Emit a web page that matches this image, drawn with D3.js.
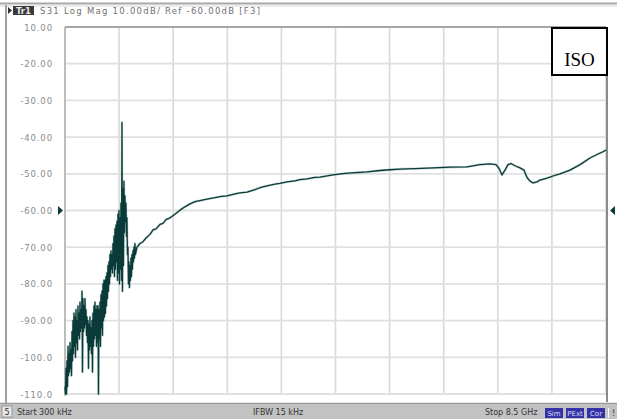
<!DOCTYPE html>
<html>
<head>
<meta charset="utf-8">
<script src="https://cdn.jsdelivr.net/npm/d3@7"></script>
<style>
  html, body { margin: 0; padding: 0; background: #fff; }
  svg { display: block; }
</style>
</head>
<body>
<svg id="chart" width="617" height="419"></svg>
<script>
// Sweep settings (GHz)
const sweepStart = 0.0003;
const sweepStop = 8.5;
const sweepStep = 0.0157;          // spacing of the low-band sweep bins

// Y axis: 10 dB/div, reference -60 dB
const yTicks = [-10, -20, -30, -40, -50, -60, -70, -80, -90, -100, -110];
const yTickLabels = ["10.00", "-20.00", "-30.00", "-40.00", "-50.00", "-60.00",
                     "-70.00", "-80.00", "-90.00", "-100.0", "-110.0"];
const refLevel = -60;

// Low band S31 (dB): per sweep bin, [peak, trough]
const lowBand = [
  [-108,-110],[-103,-110],[-101,-108],[-97,-105],[-99,-104],[-96,-103],[-98,-105],
  [-93,-101],[-90,-99],[-88,-97],[-89,-100],[-87,-96],[-90,-98],[-86,-94],[-88,-95],
  [-85,-93],[-87,-92],[-82,-104],[-84,-93],[-86,-92],[-84,-91],[-87,-94],[-89,-96],
  [-90,-103],[-91,-98],[-89,-97],[-92,-99],[-90,-104],[-88,-97],[-86,-95],[-85,-94],
  [-87,-97],[-86,-96],[-86,-110],[-87,-95],[-85,-97],[-83,-92],[-82,-94],[-80,-90],
  [-79,-89],[-79,-88],[-78,-86],[-77,-84],[-75,-82],[-74,-80],[-72,-78],[-71,-76],
  [-72,-77],[-69,-75],[-67,-78],[-65,-76],[-64,-74],[-63,-79],[-61,-77],[-60,-80],
  [-62,-76],[-58,-79],[-36,-82],[-54,-75],[-52,-66],[-56,-63],[-58,-67],[-62,-72],
  [-70,-80],[-74,-81],[-75,-79],[-73,-78],[-72,-76],[-71,-74],[-70,-73],[-69,-72]
];

// Upper band S31: frequency (GHz) and level (dB)
const freqGHz = [1.131,1.178,1.226,1.273,1.336,1.383,1.430,1.493,1.540,1.587,1.650,
  1.728,1.807,1.885,1.964,2.043,2.121,2.231,2.357,2.435,2.545,2.671,2.750,2.860,
  2.985,3.064,3.174,3.299,3.378,3.488,3.613,3.692,3.802,3.928,4.007,4.211,4.399,
  4.556,4.745,4.949,5.106,5.264,5.499,5.782,6.049,6.316,6.520,6.678,6.772,6.819,
  6.866,6.913,6.960,7.008,7.070,7.149,7.212,7.259,7.306,7.354,7.416,7.463,7.573,
  7.667,7.777,7.934,8.092,8.249,8.375,8.453,8.500];
const s31dB = [-70,-69,-68.5,-67.5,-66.5,-65.3,-65,-63.8,-63.5,-62.5,-62,
  -61,-59.9,-59,-58.2,-57.6,-57.3,-56.9,-56.5,-56.2,-56,-55.5,-55.2,-55,
  -54.3,-53.8,-53.3,-52.8,-52.6,-52.2,-51.9,-51.6,-51.4,-51,-50.9,-50.3,-49.9,
  -49.7,-49.5,-49.1,-48.9,-48.7,-48.6,-48.4,-48.2,-48.1,-47.5,-47.3,-47.5,-48.5,
  -50.3,-49,-47.5,-47.2,-47.8,-48.4,-49,-51,-52,-52.5,-52.2,-51.7,-51.2,
  -50.6,-50,-49,-47.5,-45.7,-44.6,-44,-43.5];

const traceName = "ISO";
const headerTrace = "Tr1";
const headerText = "S31 Log Mag 10.00dB/ Ref -60.00dB [F3]";
const statusStart = "Start 300 kHz";
const statusIfbw = "IFBW 15 kHz";
const statusStop = "Stop 8.5 GHz";
const statusFlags = ["Sim", "PExt", "Cor"];

const svg = d3.select("#chart");
const W = 617, H = 419;
const plot = { left: 65, right: 606, top: 27, bottom: 394 };

const x = d3.scaleLinear().domain([sweepStart, sweepStop]).range([plot.left, plot.right]);
const y = d3.scaleLinear().domain([-110, -10]).range([plot.bottom, plot.top]);

// outer frame
svg.append("rect").attr("x", 0).attr("y", 0).attr("width", W).attr("height", H).attr("fill", "#fff");
svg.append("line").attr("x1", 0).attr("x2", W).attr("y1", 3.5).attr("y2", 3.5)
  .attr("stroke", "#a8a8a8").attr("stroke-width", 2);
svg.append("line").attr("x1", 0).attr("x2", W).attr("y1", 6).attr("y2", 6)
  .attr("stroke", "#e4e4e4").attr("stroke-width", 1.5);
svg.append("line").attr("x1", 6).attr("x2", 6).attr("y1", 5).attr("y2", 404)
  .attr("stroke", "#a0a0a0").attr("stroke-width", 2);

// header
const hdr = svg.append("g").attr("font-family", "DejaVu Sans, sans-serif").attr("font-size", 8.5);
hdr.append("path").attr("d", "M8,7 L12,10.5 L8,14 Z").attr("fill", "#333");
hdr.append("rect").attr("x", 13).attr("y", 6).attr("width", 21).attr("height", 9).attr("fill", "#3a3a3a");
hdr.append("text").attr("x", 23.5).attr("y", 14).attr("text-anchor", "middle")
  .attr("fill", "#e8e8e8").attr("font-weight", "bold").text(headerTrace);
hdr.append("text").attr("x", 40).attr("y", 14).attr("fill", "#707070")
  .attr("textLength", 220).attr("lengthAdjust", "spacing").text(headerText);

// grid
const grid = svg.append("g");
const xGrid = d3.range(11).map(i => sweepStart + i * (sweepStop - sweepStart) / 10);
grid.selectAll("line.v").data(xGrid).join("line").attr("class", "v")
  .attr("x1", d => x(d)).attr("x2", d => x(d)).attr("y1", plot.top).attr("y2", plot.bottom)
  .attr("stroke", "#d9d9d9").attr("stroke-width", 1.6);
grid.selectAll("line.h").data(yTicks).join("line").attr("class", "h")
  .attr("x1", plot.left).attr("x2", plot.right).attr("y1", d => y(d)).attr("y2", d => y(d))
  .attr("stroke", "#e0e0e0").attr("stroke-width", 1.8);

// plot borders
svg.append("line").attr("x1", plot.left).attr("x2", plot.right).attr("y1", plot.top).attr("y2", plot.top)
  .attr("stroke", "#a6a6a6").attr("stroke-width", 2);
svg.append("line").attr("x1", plot.left).attr("x2", plot.left).attr("y1", plot.top).attr("y2", plot.bottom + 2)
  .attr("stroke", "#b4b4b4").attr("stroke-width", 1.6);
svg.append("line").attr("x1", plot.right + 1).attr("x2", plot.right + 1).attr("y1", plot.top).attr("y2", 402)
  .attr("stroke", "#8a8a8a").attr("stroke-width", 2);

// y tick labels
svg.append("g").selectAll("text").data(yTicks).join("text")
  .attr("x", 53).attr("y", d => y(d) + 3.5).attr("text-anchor", "end")
  .attr("font-family", "DejaVu Sans, sans-serif").attr("font-size", 8.5)
  .attr("letter-spacing", 0.9).attr("fill", "#8a8a8a")
  .text((d, i) => yTickLabels[i]);

// reference level markers
const traceColor = "#0b3b39";
svg.append("path")
  .attr("d", `M${plot.left - 7},${y(refLevel) - 4.5} L${plot.left - 2},${y(refLevel)} L${plot.left - 7},${y(refLevel) + 4.5} Z`)
  .attr("fill", traceColor);
svg.append("path")
  .attr("d", `M${plot.right + 9},${y(refLevel) - 4.5} L${plot.right + 4},${y(refLevel)} L${plot.right + 9},${y(refLevel) + 4.5} Z`)
  .attr("fill", traceColor);

// trace points
const pts = [];
lowBand.forEach((pair, i) => {
  const f = sweepStart + i * sweepStep;
  pts.push([f, pair[0]]);
  pts.push([f + sweepStep / 2, pair[1]]);
});
freqGHz.forEach((f, i) => pts.push([f, s31dB[i]]));

const line = d3.line().x(d => x(d[0])).y(d => y(Math.max(-110, d[1])));
svg.append("path").datum(pts).attr("d", line)
  .attr("fill", "none").attr("stroke", "#7fa3a0").attr("stroke-width", 2.4).attr("stroke-opacity", 0.45)
  .attr("stroke-linejoin", "round");
svg.append("path").datum(pts).attr("d", line)
  .attr("fill", "none").attr("stroke", traceColor).attr("stroke-width", 1.3)
  .attr("stroke-linejoin", "round");

// trace label box
svg.append("rect").attr("x", 552).attr("y", 28).attr("width", 55).attr("height", 47)
  .attr("fill", "#fff").attr("stroke", "#000").attr("stroke-width", 2);
svg.append("text").attr("x", 579.5).attr("y", 66).attr("text-anchor", "middle")
  .attr("font-family", "Liberation Serif, Times New Roman, serif").attr("font-size", 19)
  .attr("fill", "#000").text(traceName);

// status bar
svg.append("line").attr("x1", 0).attr("x2", W).attr("y1", 403.5).attr("y2", 403.5)
  .attr("stroke", "#9a9a9a").attr("stroke-width", 1.5);
svg.append("rect").attr("x", 0).attr("y", 404).attr("width", W).attr("height", 15).attr("fill", "#c2c2c2");
const sb = svg.append("g").attr("font-family", "DejaVu Sans, sans-serif").attr("font-size", 8).attr("fill", "#333");
sb.append("rect").attr("x", 2).attr("y", 406).attr("width", 10).attr("height", 11)
  .attr("fill", "#e6e6e6").attr("stroke", "#888").attr("stroke-width", 0.8);
sb.append("text").attr("x", 7).attr("y", 415).attr("text-anchor", "middle").text("5");
sb.append("text").attr("x", 17).attr("y", 415).text(statusStart);
sb.append("text").attr("x", 253).attr("y", 415).text(statusIfbw);
sb.append("text").attr("x", 485).attr("y", 415).text(statusStop);
const flagX = [545, 566, 587];
statusFlags.forEach((t, i) => {
  sb.append("rect").attr("x", flagX[i]).attr("y", 408).attr("width", 18).attr("height", 10).attr("fill", "#3434a8");
  sb.append("text").attr("x", flagX[i] + 9).attr("y", 416).attr("text-anchor", "middle")
    .attr("font-size", 7).attr("fill", "#d8d8f4").text(t);
});
sb.append("rect").attr("x", 608).attr("y", 408).attr("width", 1).attr("height", 10).attr("fill", "#fff");
sb.append("text").attr("x", 612).attr("y", 416).attr("font-size", 8).text("!");
</script>
</body>
</html>
